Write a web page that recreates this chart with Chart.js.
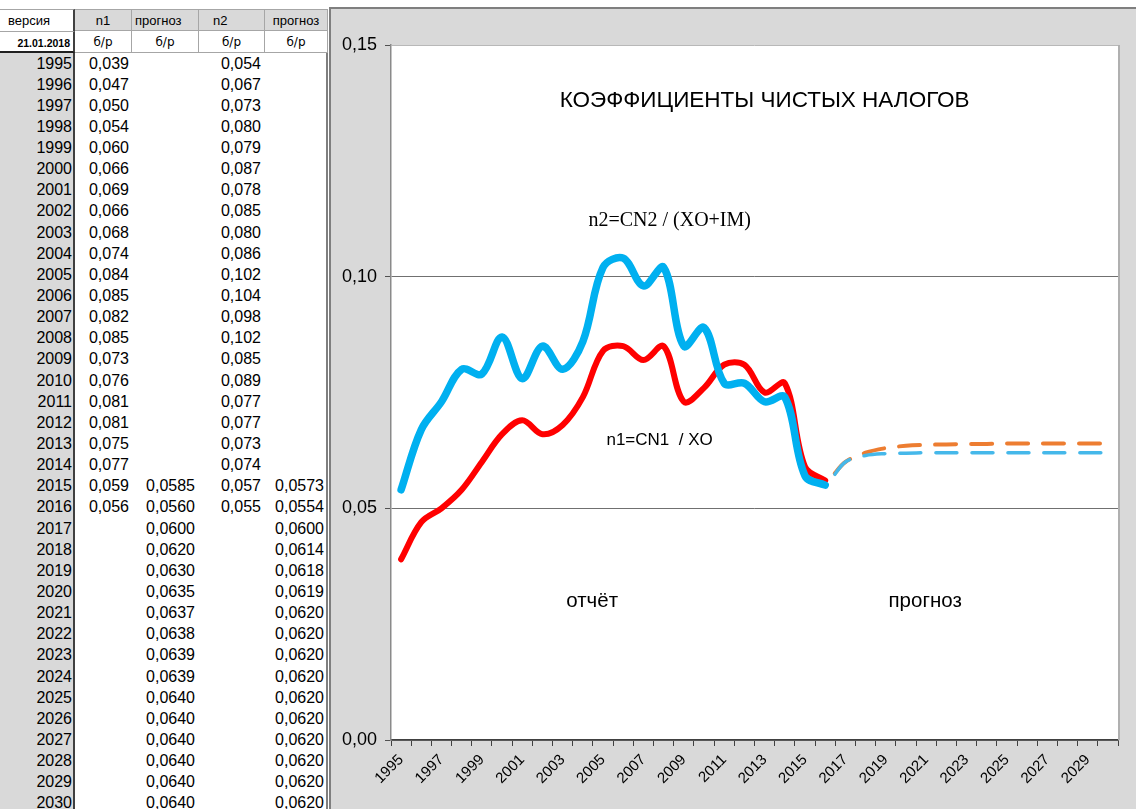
<!DOCTYPE html>
<html>
<head>
<meta charset="utf-8">
<script src="https://cdn.jsdelivr.net/npm/chart.js@4.4.1/dist/chart.umd.min.js"></script>
<style>
  html, body { margin:0; padding:0; background:#fff; }
  body { width:1136px; height:809px; overflow:hidden; position:relative; font-family:"Liberation Sans", Arial, sans-serif; }
  .c { position:absolute; box-sizing:border-box; white-space:nowrap; color:#000; }
  #panel { position:absolute; left:329px; top:7px; width:805px; height:800px; background:#d9d9d9;
           border-top:2px solid #7f7f7f; border-left:2px solid #7f7f7f; }
  #chart { display:block; }
</style>
</head>
<body>
<div id="tbl"></div>
<div id="panel"><canvas id="chart" width="805" height="800"></canvas></div>
<script>
// ---------- data ----------
const years = ['1995','1996','1997','1998','1999','2000','2001','2002','2003','2004','2005','2006',
  '2007','2008','2009','2010','2011','2012','2013','2014','2015','2016','2017','2018',
  '2019','2020','2021','2022','2023','2024','2025','2026','2027','2028','2029','2030'];
const n1 = [0.039,0.047,0.050,0.054,0.060,0.066,0.069,0.066,0.068,0.074,0.084,0.085,
  0.082,0.085,0.073,0.076,0.081,0.081,0.075,0.077,0.059,0.056,
  null,null,null,null,null,null,null,null,null,null,null,null,null,null];
const n2 = [0.054,0.067,0.073,0.080,0.079,0.087,0.078,0.085,0.080,0.086,0.102,0.104,
  0.098,0.102,0.085,0.089,0.077,0.077,0.073,0.074,0.057,0.055,
  null,null,null,null,null,null,null,null,null,null,null,null,null,null];
const n1Forecast = [null,null,null,null,null,null,null,null,null,null,null,null,null,null,null,null,null,null,null,null,
  0.0585,0.0560,0.0600,0.0620,0.0630,0.0635,0.0637,0.0638,0.0639,0.0639,0.0640,0.0640,0.0640,0.0640,0.0640,0.0640];
const n2Forecast = [null,null,null,null,null,null,null,null,null,null,null,null,null,null,null,null,null,null,null,null,
  0.0573,0.0554,0.0600,0.0614,0.0618,0.0619,0.0620,0.0620,0.0620,0.0620,0.0620,0.0620,0.0620,0.0620,0.0620,0.0620];
const yTicks = [0, 0.05, 0.10, 0.15];
const headerTop = ['версия','n1','прогноз','n2','прогноз'];
const headerSub = ['21.01.2018','б/р','б/р','б/р','б/р'];
const chartTitle = 'КОЭФФИЦИЕНТЫ ЧИСТЫХ НАЛОГОВ';
const labelN2 = 'n2=CN2 / (XO+IM)';
const labelN1 = 'n1=CN1  / XO';
const labelReport = 'отчёт';
const labelForecast = 'прогноз';

// ---------- table ----------
const tbl = document.getElementById('tbl');
const colX = [0, 75, 132, 199, 265, 328];
function cell(x, y, w, h, text, css) {
  const d = document.createElement('div');
  d.className = 'c';
  d.style.left = x + 'px'; d.style.top = y + 'px';
  d.style.width = w + 'px'; d.style.height = h + 'px';
  d.style.lineHeight = h + 'px';
  Object.assign(d.style, css || {});
  d.textContent = text;
  tbl.appendChild(d);
  return d;
}
// header row 1
cell(0, 9, 75, 22, headerTop[0], {background:'#fff', borderTop:'1px solid #a6a6a6', borderRight:'2px solid #404040', fontSize:'13px', paddingLeft:'8px'});
for (let i = 1; i < 5; i++) {
  const al = (i === 2) ? {textAlign:'left', paddingLeft:'3px'} : (i === 3 ? {textAlign:'left', paddingLeft:'14px'} : {textAlign:'center'});
  cell(colX[i], 9, colX[i+1]-colX[i], 22, headerTop[i], Object.assign({background:'#d9d9d9', borderTop:'1px solid #a6a6a6', borderRight:'1px solid #a6a6a6', borderBottom:'1px solid #a6a6a6', fontSize:'13px'}, al));
}
// header row 2
cell(0, 31, 75, 22, headerSub[0], {background:'#fff', borderTop:'1px solid #a6a6a6', borderRight:'2px solid #404040', borderBottom:'2px solid #202020', fontSize:'10.5px', fontWeight:'bold', textAlign:'right', paddingRight:'3px'});
for (let i = 1; i < 5; i++) {
  cell(colX[i], 31, colX[i+1]-colX[i], 22, headerSub[i], {background:'#fff', borderRight:'1px solid #a6a6a6', borderBottom:'1px solid #a6a6a6', fontSize:'12px', textAlign:'center', fontFamily:'"DejaVu Sans", sans-serif'});
}
// data area backgrounds
cell(0, 53, 75, 760, '', {background:'#d9d9d9', borderRight:'2px solid #404040'});
cell(326, 53, 2, 760, '', {background:'#7f7f7f'});
const rowH = 21.14;
const fmt = (v, d) => v.toFixed(d).replace('.', ',');
for (let r = 0; r < years.length; r++) {
  const y = 52.5 + r * rowH;
  const f = {fontSize:'16px', textAlign:'right'};
  cell(0, y, 72, rowH, years[r], f);
  if (n1[r] != null) cell(colX[1], y, colX[2]-colX[1]-3, rowH, fmt(n1[r], 3), f);
  if (n1Forecast[r] != null) cell(colX[2], y, colX[3]-colX[2]-4, rowH, fmt(n1Forecast[r], 4), f);
  if (n2[r] != null) cell(colX[3], y, colX[4]-colX[3]-4, rowH, fmt(n2[r], 3), f);
  if (n2Forecast[r] != null) cell(colX[4], y, colX[5]-colX[4]-4, rowH, fmt(n2Forecast[r], 4), f);
}

// ---------- chart ----------
Chart.defaults.font.family = '"Liberation Sans", Arial, sans-serif';
Chart.defaults.color = '#000';

const textLabels = [
  {text: chartTitle, at: 18.0, value: 0.138, font: '22.5px "Liberation Sans", Arial'},
  {text: labelN2, at: 13.3, value: 0.112, font: '20px "Liberation Serif", "Times New Roman", serif'},
  {text: labelN1, at: 12.8, value: 0.0647, font: '17px "Liberation Sans", Arial'},
  {text: labelReport, at: 9.46, value: 0.030, font: '20.5px "Liberation Sans", Arial'},
  {text: labelForecast, at: 25.95, value: 0.030, font: '20.5px "Liberation Sans", Arial'}
];

const plotBg = {
  id: 'plotBg',
  beforeDraw(chart) {
    const {ctx, chartArea: a} = chart;
    ctx.save();
    ctx.fillStyle = '#ffffff';
    ctx.fillRect(a.left, a.top, a.right - a.left, a.bottom - a.top);
    ctx.restore();
  },
  afterDraw(chart) {
    const {ctx, chartArea: a} = chart;
    ctx.save();
    ctx.strokeStyle = '#b0b0b0';
    ctx.lineWidth = 2;
    ctx.beginPath();
    ctx.moveTo(a.right + 1, a.top);
    ctx.lineTo(a.right + 1, a.bottom);
    ctx.stroke();
    ctx.restore();
  }
};
const annot = {
  id: 'annot',
  afterDatasetsDraw(chart) {
    const {ctx} = chart;
    const xs = chart.scales.x, ys = chart.scales.y;
    ctx.save();
    ctx.fillStyle = '#000';
    ctx.textAlign = 'center';
    ctx.textBaseline = 'middle';
    textLabels.forEach(l => {
      ctx.font = l.font;
      ctx.fillText(l.text, xs.getPixelForValue(l.at), ys.getPixelForValue(l.value));
    });
    ctx.restore();
  }
};

const common = {pointRadius: 0, pointHoverRadius: 0, fill: false, tension: 0.35,
  borderCapStyle: 'round', borderJoinStyle: 'round', spanGaps: false};

new Chart(document.getElementById('chart'), {
  type: 'line',
  data: {
    labels: years,
    datasets: [
      Object.assign({label: 'n1 прогноз', data: n1Forecast, borderColor: '#ED7D31', borderWidth: 4, borderDash: [21, 15], order: 4}, common),
      Object.assign({label: 'n2 прогноз', data: n2Forecast, borderColor: '#45B8EA', borderWidth: 3.5, borderDash: [21, 15], order: 3}, common),
      Object.assign({label: 'n1', data: n1, borderColor: '#FF0000', borderWidth: 6, order: 2}, common),
      Object.assign({label: 'n2', data: n2, borderColor: '#00B0F0', borderWidth: 7.5, order: 1}, common)
    ]
  },
  options: {
    responsive: false,
    animation: false,
    events: [],
    layout: {padding: {left: 0, top: 36, right: 18, bottom: 0}},
    plugins: {legend: {display: false}, tooltip: {enabled: false}, title: {display: false}},
    scales: {
      x: {
        type: 'category',
        offset: true,
        grid: {offset: true, drawOnChartArea: false, color: '#404040', tickLength: 6, lineWidth: 1},
        border: {color: '#404040', width: 1.5},
        ticks: {autoSkip: false, minRotation: 45, maxRotation: 45, padding: 5,
          font: {size: 15}, color: '#000',
          callback: (v, i) => (i % 2 === 0 ? years[i] : '')},
        afterFit: s => { s.height = 69; }
      },
      y: {
        min: yTicks[0], max: yTicks[yTicks.length - 1],
        afterBuildTicks: s => { s.ticks = yTicks.map(v => ({value: v})); },
        ticks: {padding: 8, font: {size: 18}, color: '#000',
          callback: v => Number(v).toFixed(2).replace('.', ',')},
        grid: {color: c => (c.tick && c.tick.value >= 0.149 ? '#b8b8b8' : '#707070'),
               tickColor: '#505050', tickLength: 6, lineWidth: 1},
        border: {color: '#8a8a8a', width: 1.5},
        afterFit: s => { s.width = 60; }
      }
    }
  },
  plugins: [plotBg, annot]
});
</script>
</body>
</html>
